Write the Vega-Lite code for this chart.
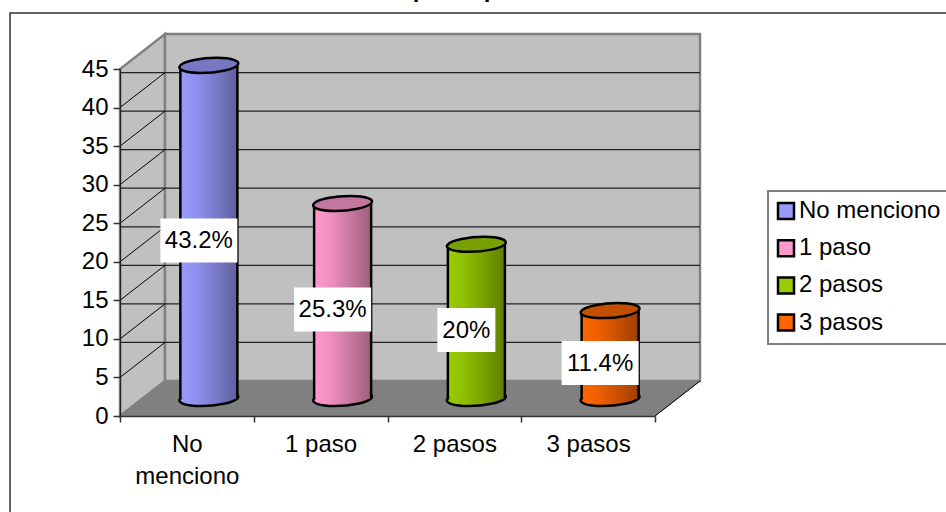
{
"$schema":"https://vega.github.io/schema/vega-lite/v6.json",
"autosize":"none",
"width":535,"height":347,
"padding":{"left":120,"top":69,"right":291,"bottom":96},
"background":"white",
"config":{"view":{"stroke":null},"font":"Liberation Sans","legend":{"strokeWidth":2},"axisY":{"tickCount":10}},
"datasets":{
"main":[
{"cat":"No menciono","value":43.2,"label":"43.2%"},
{"cat":"1 paso","value":25.3,"label":"25.3%"},
{"cat":"2 pasos","value":20,"label":"20%"},
{"cat":"3 pasos","value":11.4,"label":"11.4%"}],
"grid":[{"v":5},{"v":10},{"v":15},{"v":20},{"v":25},{"v":30},{"v":35},{"v":40}],
"one":[{"n":1}],
"head":[{"t":"p"}]
},
"resolve":{"scale":{"y":"independent"}},
"layer":[
{"layer":[
{"data":{"name":"main"},"mark":{"type":"point","filled":true,"size":4,"opacity":1},
 "encoding":{
 "x":{"field":"cat","type":"nominal","sort":null,"scale":{"type":"band","domain":["No menciono","1 paso","2 pasos","3 pasos"],"paddingInner":0,"paddingOuter":0},
  "axis":{"title":null,"zindex":1,"labelAngle":0,"tickBand":"extent","tickSize":6,"tickColor":"#333333","tickWidth":1.5,"domainColor":"#333333","domainWidth":1.5,"labelFont":"Liberation Sans","labelFontSize":24,"labelColor":"#000000","labelPadding":10,"labelLineHeight":32,"labelOverlap":false,"labelLimit":300,"grid":false,
  "labelExpr":"datum.label=='No menciono'?['No','menciono']:datum.label"}},
 "y":{"datum":30,"type":"quantitative","scale":{"domain":[0,45],"nice":false},
  "axis":{"title":null,"zindex":1,"values":[0,5,10,15,20,25,30,35,40,45],"tickCount":10,"tickSize":7,"tickColor":"#333333","tickWidth":1.5,"domainColor":"#222222","domainWidth":1.2,"labelFont":"Liberation Sans","labelFontSize":24,"labelColor":"#000000","labelPadding":5,"grid":false,"labelOverlap":false}},
 "color":{"field":"cat","type":"nominal","title":null,"scale":{"domain":["No menciono","1 paso","2 pasos","3 pasos"],"range":["#9999ff","#ff99cc","#99cc00","#ff6600"]},
  "legend":{"orient":"none","legendX":648,"legendY":122,"padding":8,"fillColor":"white","strokeColor":"#808080","symbolType":"square","symbolSize":256,"symbolStrokeColor":"#000000","symbolStrokeWidth":2.5,"symbolOpacity":1,"symbolOffset":-2,"labelFont":"Liberation Sans","labelFontSize":24,"labelColor":"#000000","labelOffset":1,"rowPadding":11.2,"labelLimit":300}}
 }},
{"data":{"name":"one"},"mark":{"type":"point","filled":true,"size":4,"opacity":1,"fill":"#c0c0c0","stroke":"#808080","strokeWidth":2.5,"shape":"M0 0 L45 -35 V-382 L0 -347 Z"},
 "encoding":{"x":{"datum":"No menciono","type":"nominal","bandPosition":0},"y":{"datum":0,"type":"quantitative"}}},
{"data":{"name":"one"},"mark":{"type":"point","filled":true,"size":4,"opacity":1,"fill":"#c0c0c0","stroke":"#808080","strokeWidth":2.5,"shape":"M45 -35 H580 V-382 H45 Z"},
 "encoding":{"x":{"datum":"No menciono","type":"nominal","bandPosition":0},"y":{"datum":0,"type":"quantitative"}}},
{"data":{"name":"one"},"mark":{"type":"point","filled":true,"size":4,"opacity":1,"fill":"#808080","stroke":"#808080","strokeWidth":1,"shape":"M0 0 L45 -35 H580 L535 0 Z"},
 "encoding":{"x":{"datum":"No menciono","type":"nominal","bandPosition":0},"y":{"datum":0,"type":"quantitative"}}},
{"data":{"name":"one"},"mark":{"type":"point","filled":false,"size":4,"opacity":1,"stroke":"#000000","strokeWidth":1,"shape":"M535 0 L580 -35"},
 "encoding":{"x":{"datum":"No menciono","type":"nominal","bandPosition":0},"y":{"datum":0,"type":"quantitative"}}},
{"data":{"name":"one"},"mark":{"type":"point","filled":false,"size":4,"opacity":1,"stroke":"#333333","strokeWidth":1.5,"shape":"M826 -403 H-110 V96"},
 "encoding":{"x":{"datum":"No menciono","type":"nominal","bandPosition":0},"y":{"datum":0,"type":"quantitative"}}},
{"data":{"name":"grid"},"mark":{"type":"rule","stroke":"#222222","strokeWidth":1.2,"xOffset":45,"x2Offset":45,"yOffset":-35},
 "encoding":{"y":{"field":"v","type":"quantitative"}}},
{"data":{"name":"grid"},"mark":{"type":"point","filled":false,"size":4,"opacity":1,"stroke":"#000000","strokeWidth":1,"shape":"M0 0 L45 -35"},
 "encoding":{"x":{"datum":"No menciono","type":"nominal","bandPosition":0},"y":{"field":"v","type":"quantitative"}}},
{"data":{"name":"main"},"mark":{"type":"point","filled":true,"size":4,"opacity":1,"xOffset":22,"yOffset":-17.5,"stroke":"#000000","strokeWidth":2.5,"shape":"M-28.5 0 A28.5 7 -4 1 0 28.5 0 A28.5 7 -4 1 0 -28.5 0 Z"},
 "encoding":{"x":{"field":"cat","type":"nominal"},"y":{"datum":0,"type":"quantitative"},
 "fill":{"condition":[
  {"test":"datum.cat=='No menciono'","value":{"gradient":"linear","x1":0,"x2":1,"y1":0,"y2":0,"stops":[{"offset":0,"color":"#9a9aff"},{"offset":0.3,"color":"#8f8fee"},{"offset":1,"color":"#5f5f9e"}]}},
  {"test":"datum.cat=='1 paso'","value":{"gradient":"linear","x1":0,"x2":1,"y1":0,"y2":0,"stops":[{"offset":0,"color":"#ff99cc"},{"offset":0.3,"color":"#ee8fbe"},{"offset":1,"color":"#9e5f7e"}]}},
  {"test":"datum.cat=='2 pasos'","value":{"gradient":"linear","x1":0,"x2":1,"y1":0,"y2":0,"stops":[{"offset":0,"color":"#99cc00"},{"offset":0.3,"color":"#8fbe00"},{"offset":1,"color":"#5f7e00"}]}}],
  "value":{"gradient":"linear","x1":0,"x2":1,"y1":0,"y2":0,"stops":[{"offset":0,"color":"#ff6600"},{"offset":0.3,"color":"#ee5f00"},{"offset":1,"color":"#9e3f00"}]}}}},
{"data":{"name":"main"},"mark":{"type":"bar","size":57,"xOffset":22,"x2Offset":22,"yOffset":-17.5,"y2Offset":-17.5,"strokeWidth":0},
 "encoding":{"x":{"field":"cat","type":"nominal"},"y":{"field":"value","type":"quantitative","stack":null},"y2":{"datum":0},
 "fill":{"condition":[
  {"test":"datum.cat=='No menciono'","value":{"gradient":"linear","x1":0,"x2":1,"y1":0,"y2":0,"stops":[{"offset":0,"color":"#9a9aff"},{"offset":0.3,"color":"#8f8fee"},{"offset":1,"color":"#5f5f9e"}]}},
  {"test":"datum.cat=='1 paso'","value":{"gradient":"linear","x1":0,"x2":1,"y1":0,"y2":0,"stops":[{"offset":0,"color":"#ff99cc"},{"offset":0.3,"color":"#ee8fbe"},{"offset":1,"color":"#9e5f7e"}]}},
  {"test":"datum.cat=='2 pasos'","value":{"gradient":"linear","x1":0,"x2":1,"y1":0,"y2":0,"stops":[{"offset":0,"color":"#99cc00"},{"offset":0.3,"color":"#8fbe00"},{"offset":1,"color":"#5f7e00"}]}}],
  "value":{"gradient":"linear","x1":0,"x2":1,"y1":0,"y2":0,"stops":[{"offset":0,"color":"#ff6600"},{"offset":0.3,"color":"#ee5f00"},{"offset":1,"color":"#9e3f00"}]}}}},
{"data":{"name":"main"},"mark":{"type":"rule","stroke":"#000000","strokeWidth":2.5,"xOffset":-6.5,"yOffset":-17.5,"y2Offset":-17.5},
 "encoding":{"x":{"field":"cat","type":"nominal"},"y":{"field":"value","type":"quantitative","stack":null},"y2":{"datum":0}}},
{"data":{"name":"main"},"mark":{"type":"rule","stroke":"#000000","strokeWidth":2.5,"xOffset":50.5,"yOffset":-17.5,"y2Offset":-17.5},
 "encoding":{"x":{"field":"cat","type":"nominal"},"y":{"field":"value","type":"quantitative","stack":null},"y2":{"datum":0}}},
{"data":{"name":"main"},"mark":{"type":"point","filled":true,"size":4,"opacity":1,"xOffset":22,"yOffset":-17.5,"stroke":"#000000","strokeWidth":2.5,"shape":"M-28.5 0 A28.5 7 -4 1 0 28.5 0 A28.5 7 -4 1 0 -28.5 0 Z"},
 "encoding":{"x":{"field":"cat","type":"nominal"},"y":{"field":"value","type":"quantitative","stack":null},
 "fill":{"field":"cat","type":"nominal","legend":null,"scale":{"domain":["No menciono","1 paso","2 pasos","3 pasos"],"range":["#7777c4","#c4779e","#77a000","#c25000"]}}}}
]},
{"layer":[
{"data":{"name":"main"},"mark":{"type":"point","filled":true,"size":4,"opacity":1,"fill":"#ffffff","strokeWidth":0,"xOffset":12,"yOffset":-9},
 "encoding":{"x":{"field":"cat","type":"nominal"},"y":{"field":"value","type":"quantitative","stack":null,"axis":null,"scale":{"domain":[0,90],"nice":false}},
 "shape":{"field":"label","type":"nominal","legend":null,"scale":{"domain":["43.2%","25.3%","20%","11.4%"],"range":["M-38.5 -22 H38.5 V22 H-38.5 Z","M-38.5 -22 H38.5 V22 H-38.5 Z","M-29 -22 H29 V22 H-29 Z","M-38.5 -22 H38.5 V22 H-38.5 Z"]}}}},
{"data":{"name":"main"},"mark":{"type":"text","font":"Liberation Sans","fontSize":24,"color":"#000000","baseline":"middle","align":"center","xOffset":12,"yOffset":-8},
 "encoding":{"x":{"field":"cat","type":"nominal"},"y":{"field":"value","type":"quantitative","stack":null,"axis":null},"text":{"field":"label"}}}
]},
{"layer":[
{"data":{"name":"head"},"mark":{"type":"text","font":"Liberation Sans","fontSize":24,"fontWeight":"bold","color":"#000000","baseline":"alphabetic","align":"center","yOffset":-72,"xOffset":300},
 "encoding":{"x":{"datum":"No menciono","type":"nominal","bandPosition":0},"y":{"datum":45,"type":"quantitative","axis":null,"scale":{"domain":[0,45],"nice":false}},"text":{"field":"t"}}},
{"data":{"name":"head"},"mark":{"type":"text","font":"Liberation Sans","fontSize":24,"fontWeight":"bold","color":"#000000","baseline":"alphabetic","align":"center","yOffset":-72,"xOffset":371},
 "encoding":{"x":{"datum":"No menciono","type":"nominal","bandPosition":0},"y":{"datum":45,"type":"quantitative","axis":null},"text":{"field":"t"}}}
]}
]
}
